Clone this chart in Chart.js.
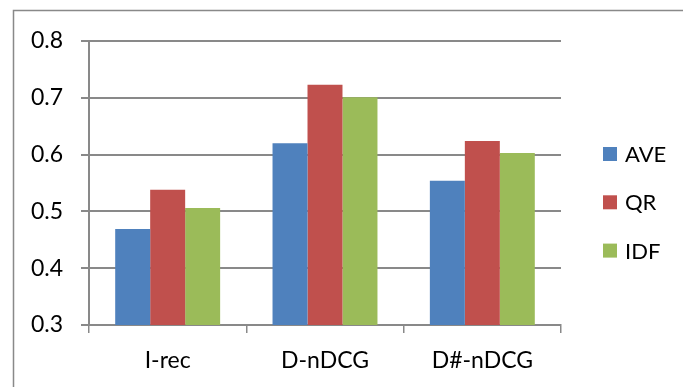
<!DOCTYPE html>
<html>
<head>
<meta charset="utf-8">
<script src="https://cdn.jsdelivr.net/npm/chart.js@4/dist/chart.umd.min.js"></script>
<style>
  html, body { margin: 0; padding: 0; background: #fff; }
  #wrap { position: relative; width: 683px; height: 387px; }
</style>
</head>
<body>
<div id="wrap"><canvas id="chart" width="683" height="387"></canvas></div>
<script>
const categories = ['I-rec', 'D-nDCG', 'D#-nDCG'];
const seriesNames = ['AVE', 'QR', 'IDF'];
const aveValues = [0.469, 0.620, 0.554];
const qrValues = [0.538, 0.723, 0.624];
const idfValues = [0.506, 0.701, 0.603];
const yTickLabels = ['0.3', '0.4', '0.5', '0.6', '0.7', '0.8'];
const colors = ['#4F81BD', '#C0504D', '#9BBB59'];

const gridGray = '#898989';
const font = 'Lato, "Open Sans", sans-serif';

// outer frame of the chart (Excel style box, cut off at right/bottom)
const framePlugin = {
    id: 'frame',
    beforeDraw(chart) {
        const ctx = chart.ctx;
        ctx.save();
        ctx.fillStyle = '#fff';
        ctx.fillRect(0, 0, chart.width, chart.height);
        ctx.strokeStyle = gridGray;
        ctx.lineWidth = 1.5;
        ctx.strokeRect(13.5, 10.5, 720, 420);
        ctx.restore();
    }
};

// legend drawn on the right, square + label
const sideLegend = {
    id: 'sideLegend',
    afterDraw(chart) {
        const ctx = chart.ctx;
        ctx.save();
        ctx.font = '22px ' + font;
        ctx.textBaseline = 'middle';
        ctx.textAlign = 'left';
        chart.data.datasets.forEach((ds, i) => {
            const top = 147 + i * 48.3;
            ctx.fillStyle = ds.backgroundColor;
            ctx.fillRect(603, top, 14, 14);
            ctx.fillStyle = '#000';
            ctx.fillText(ds.label, 625, top + 8);
        });
        ctx.restore();
    }
};

const values = [aveValues, qrValues, idfValues];

new Chart(document.getElementById('chart'), {
    type: 'bar',
    data: {
        labels: categories,
        datasets: seriesNames.map((name, i) => ({
            label: name,
            data: values[i],
            backgroundColor: colors[i],
            borderWidth: 0,
            categoryPercentage: 0.667,
            barPercentage: 1.0,
        })),
    },
    options: {
        responsive: false,
        animation: false,
        layout: { padding: { left: 0, top: 41, right: 122, bottom: 0 } },
        plugins: {
            legend: { display: false },
            tooltip: { enabled: false },
        },
        scales: {
            x: {
                grid: {
                    drawOnChartArea: false,
                    drawTicks: true,
                    tickLength: 8,
                    color: gridGray,
                    lineWidth: 1.5,
                },
                border: { color: gridGray, width: 2 },
                ticks: {
                    color: '#000',
                    font: { family: font, size: 23 },
                    padding: 14,
                    maxRotation: 0,
                },
                afterFit(scale) { scale.height = 62; },
            },
            y: {
                min: 0.3,
                max: 0.8,
                ticks: {
                    stepSize: 0.1,
                    color: '#000',
                    font: { family: font, size: 23 },
                    padding: 18,
                    callback: (value, index) => yTickLabels[index],
                },
                grid: {
                    color: gridGray,
                    lineWidth: 2,
                    tickLength: 8,
                },
                border: { color: gridGray, width: 2 },
                afterFit(scale) { scale.width = 89; },
            },
        },
    },
    plugins: [framePlugin, sideLegend],
});
</script>
</body>
</html>
